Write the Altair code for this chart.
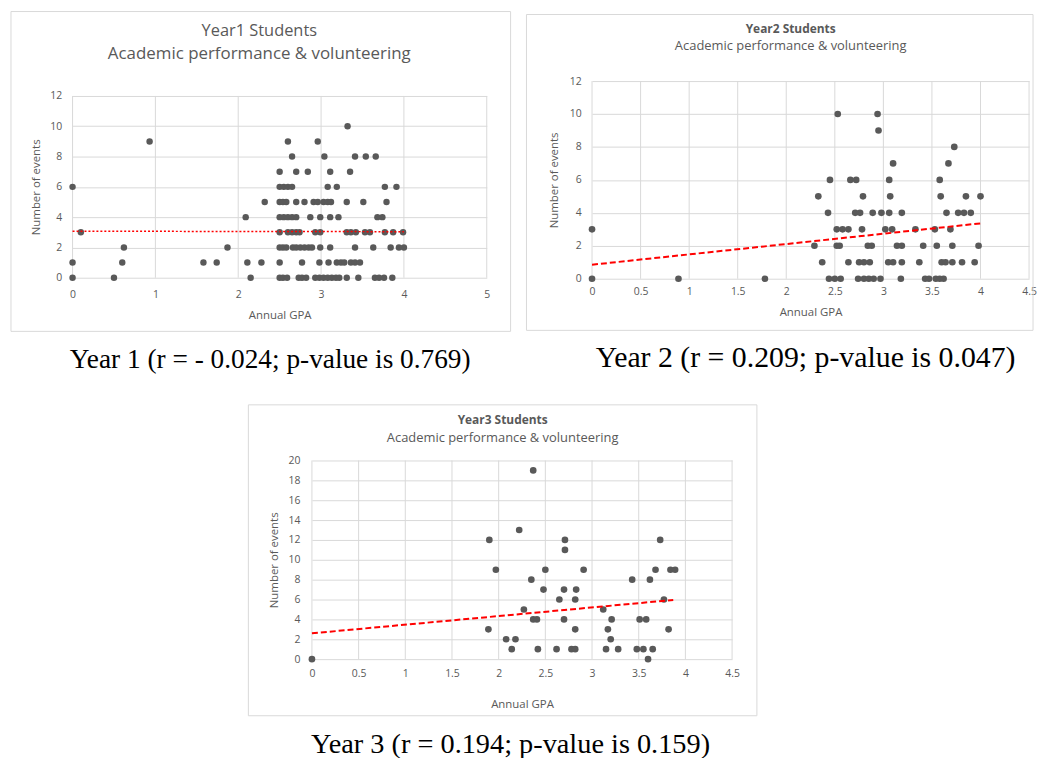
import altair as alt
import pandas as pd

# ---------------- data ----------------
# number of events -> list of annual GPA values at that level
YEAR1 = {
    10: [3.32],
    9: [0.93, 2.60, 2.96],
    8: [2.65, 3.04, 3.41, 3.54, 3.66],
    7: [2.50, 2.70, 2.84, 3.11, 3.35],
    6: [0.00, 2.50, 2.55, 2.60, 2.65, 3.08, 3.19, 3.77, 3.91],
    5: [2.32, 2.50, 2.54, 2.58, 2.70, 2.80, 2.91, 2.96, 3.03, 3.08, 3.12, 3.31, 3.51, 3.79],
    4: [2.09, 2.50, 2.55, 2.60, 2.65, 2.70, 2.87, 2.99, 3.11, 3.21, 3.68, 3.74],
    3: [0.10, 2.50, 2.60, 2.65, 2.70, 2.74, 2.93, 2.99, 3.31, 3.36, 3.42, 3.53, 3.59, 3.77, 3.87, 3.99],
    2: [0.62, 1.87, 2.50, 2.54, 2.58, 2.66, 2.70, 2.75, 2.80, 2.85, 2.89, 2.99, 3.11, 3.41, 3.63, 3.84, 3.94, 4.00],
    1: [0.00, 0.60, 1.58, 1.74, 2.11, 2.28, 2.50, 2.77, 2.98, 3.09, 3.19, 3.24, 3.28, 3.36, 3.41, 3.47],
    0: [0.00, 0.50, 2.15, 2.50, 2.54, 2.59, 2.73, 2.77, 2.82, 2.93, 2.98, 3.03, 3.08, 3.13, 3.18, 3.22,
        3.31, 3.45, 3.65, 3.70, 3.76, 3.86],
}
YEAR2 = {
    10: [2.53, 2.94],
    9: [2.95],
    8: [3.73],
    7: [3.10, 3.67],
    6: [2.45, 2.66, 2.72, 3.06, 3.58],
    5: [2.33, 2.79, 3.07, 3.59, 3.85, 4.00],
    4: [2.43, 2.71, 2.76, 2.89, 2.98, 3.06, 3.19, 3.65, 3.77, 3.83, 3.90],
    3: [0.00, 2.52, 2.58, 2.64, 2.78, 3.02, 3.09, 3.33, 3.53, 3.69],
    2: [2.29, 2.52, 2.55, 2.84, 2.88, 3.14, 3.19, 3.41, 3.55, 3.71, 3.98],
    1: [2.37, 2.64, 2.75, 2.80, 2.86, 3.05, 3.10, 3.19, 3.37, 3.60, 3.64, 3.71, 3.81, 3.94],
    0: [0.00, 0.89, 1.78, 2.44, 2.50, 2.56, 2.74, 2.80, 2.85, 2.90, 2.97, 3.18, 3.43, 3.47, 3.54, 3.58, 3.62],
}
YEAR3 = {
    19: [2.37],
    13: [2.22],
    12: [1.90, 2.71, 3.73],
    11: [2.71],
    9: [1.97, 2.50, 2.91, 3.68, 3.84, 3.89],
    8: [2.35, 3.43, 3.62],
    7: [2.48, 2.70, 2.83],
    6: [2.65, 2.82, 3.77],
    5: [2.27, 3.12],
    4: [2.37, 2.41, 2.70, 3.21, 3.51, 3.58],
    3: [1.89, 2.82, 3.17, 3.82],
    2: [2.08, 2.18, 3.20],
    1: [2.14, 2.42, 2.62, 2.78, 2.82, 3.15, 3.28, 3.48, 3.55, 3.65],
    0: [0.00, 3.60],
}

# linear trendline end points
Y1_TREND_X = [0, 4]
Y1_TREND_Y = [3.07, 3.04]
Y2_TREND_X = [0, 4]
Y2_TREND_Y = [0.85, 3.36]
Y3_TREND_X = [0, 3.87]
Y3_TREND_Y = [2.60, 5.96]

TITLES = ["Year1 Students", "Year2 Students", "Year3 Students"]
SUBTITLE = "Academic performance & volunteering"
CAPTIONS = [
    "Year 1 (r = - 0.024; p-value is 0.769)",
    "Year 2 (r = 0.209; p-value is 0.047)",
    "Year 3 (r = 0.194; p-value is 0.159)",
]
X_TICKS_5 = [0, 1, 2, 3, 4, 5]
X_TICKS_45 = [0, 0.5, 1, 1.5, 2, 2.5, 3, 3.5, 4, 4.5]
Y_TICKS_12 = [0, 2, 4, 6, 8, 10, 12]
Y_TICKS_20 = [0, 2, 4, 6, 8, 10, 12, 14, 16, 18, 20]

GREY = "#595959"
GRID = "#d9d9d9"
SANS = "Open Sans"
SERIF = "Liberation Serif"


def points_df(d):
    rows = [{"gpa": g, "events": e} for e, gs in d.items() for g in gs]
    return pd.DataFrame(rows)


def text_layer(txt, x, y, size, font=SANS, weight="normal", color=GREY):
    return alt.Chart(pd.DataFrame({"t": [txt]})).mark_text(
        font=font, fontSize=size, fontWeight=weight, color=color,
        align="center", baseline="middle",
    ).encode(x=alt.value(x), y=alt.value(y), text="t:N")


def panel(pts, tx, ty, lay):
    w, h = lay["w"], lay["h"]
    ytop = lay["ytop"]
    xenc = alt.X(
        "gpa:Q",
        scale=alt.Scale(domain=lay["xdom"], nice=False, zero=True),
        axis=alt.Axis(
            values=lay["xticks"], format="~g", title="Annual GPA",
            grid=False, domain=False, ticks=False, tickSize=0,
            labelColor=GREY, labelFont=SANS, labelFontSize=10.5,
            labelPadding=lay["xlp"], labelFlush=False,
            titleColor=GREY, titleFont=SANS, titleFontSize=11.5, titleFontWeight="normal",
            titleX=w / 2, titleY=lay["xty"], titleAlign="center", titleBaseline="middle",
        ),
    )
    yenc = alt.Y(
        "events:Q",
        scale=alt.Scale(domain=lay["ydom"], range=[h, ytop], nice=False, zero=True),
        axis=alt.Axis(
            values=lay["yticks"], title="Number of events",
            grid=True, gridColor=GRID, domain=False, ticks=False, tickSize=0,
            labelColor=GREY, labelFont=SANS, labelFontSize=10.5,
            labelPadding=lay["ylp"], labelFlush=False, labelOverlap=False,
            titleColor=GREY, titleFont=SANS, titleFontSize=11.5, titleFontWeight="normal",
            titleX=lay["ytx"], titleY=(h + ytop) / 2, titleAlign="center", titleBaseline="middle",
            titleAngle=270,
        ),
    )
    fx1, fx2, fy1, fy2 = lay["frame"]
    frame = alt.Chart(pd.DataFrame({"a": [0]})).mark_rect(
        fill="transparent", stroke=GRID, strokeWidth=1
    ).encode(x=alt.value(fx1), x2=alt.value(fx2), y=alt.value(fy1), y2=alt.value(fy2))

    nt = len(lay["xticks"])
    vgrid_df = pd.DataFrame({
        "gpa": lay["xticks"],
        "events": [lay["ydom"][0]] * nt,
        "events_top": [lay["ydom"][1]] * nt,
    })
    vgrid = alt.Chart(vgrid_df).mark_rule(color=GRID, strokeWidth=1).encode(
        x=xenc, y=yenc, y2="events_top:Q"
    )

    dots = alt.Chart(points_df(pts)).mark_circle(
        color=GREY, opacity=1, size=lay["size"]
    ).encode(x=xenc, y=yenc)

    trend = alt.Chart(pd.DataFrame({"gpa": tx, "events": ty})).mark_line(
        color="#ff0000", strokeWidth=lay["tw"], strokeDash=lay["dash"]
    ).encode(x=xenc, y=yenc)

    title = text_layer(lay["title"], lay["tx"], lay["ty1"], lay["tsize"], weight=lay["tweight"])
    sub = text_layer(SUBTITLE, lay["tx"], lay["ty2"], lay["ssize"])
    cap = text_layer(lay["caption"], lay["cx"], lay["cy"], lay["csize"], font=SERIF, color="#000000")

    return alt.layer(frame, vgrid, dots, trend, title, sub, cap).properties(width=w, height=h)


# panel 1 and panel 2 share the top of their groups (page y = 81)
LAY1 = dict(w=417, h=198, ytop=15, xdom=[0, 5], xticks=X_TICKS_5, ydom=[0, 12], yticks=Y_TICKS_12,
            frame=(-62, 441, -70, 252), title=TITLES[0], tx=188, ty1=-50, ty2=-27,
            tsize=16.5, tweight="normal", ssize=17, caption=CAPTIONS[0], cx=199, cy=281, csize=27.5,
            xlp=12, xty=38, ylp=11, ytx=-36, size=42, tw=1.5, dash=[2, 2])
LAY2 = dict(w=440, h=199, ytop=0, xdom=[0, 4.5], xticks=X_TICKS_45, ydom=[0, 12], yticks=Y_TICKS_12,
            frame=(-66, 444, -67, 251), title=TITLES[1], tx=200, ty1=-52, ty2=-35,
            tsize=12, tweight="bold", ssize=13, caption=CAPTIONS[1], cx=215, cy=279, csize=30,
            xlp=8, xty=34, ylp=11, ytx=-38, size=45, tw=2, dash=[6, 3])
LAY3 = dict(w=423, h=200, ytop=0, xdom=[0, 4.5], xticks=X_TICKS_45, ydom=[0, 20], yticks=Y_TICKS_20,
            frame=(-64, 448, -56, 257), title=TITLES[2], tx=192, ty1=-41, ty2=-23,
            tsize=12, tweight="bold", ssize=13, caption=CAPTIONS[2], cx=200, cy=286, csize=28.5,
            xlp=9, xty=46, ylp=12, ytx=-38, size=45, tw=2, dash=[6, 3])

p1 = panel(YEAR1, Y1_TREND_X, Y1_TREND_Y, LAY1)
p2 = panel(YEAR2, Y2_TREND_X, Y2_TREND_Y, LAY2)
p3 = panel(YEAR3, Y3_TREND_X, Y3_TREND_Y, LAY3)

spacer = alt.Chart(pd.DataFrame({"a": [0]})).mark_point(opacity=0).encode(
    x=alt.value(0), y=alt.value(0)
).properties(width=162, height=10)

chart = alt.vconcat(
    alt.hconcat(p1, p2, spacing=14),
    alt.hconcat(spacer, p3, spacing=14),
    spacing=30,
).properties(
    padding={"left": 2, "top": 0, "right": 0, "bottom": 0},
    background="white",
).configure_view(strokeWidth=0)

chart.save("out.html", embed_options={"renderer": "svg", "actions": False})
